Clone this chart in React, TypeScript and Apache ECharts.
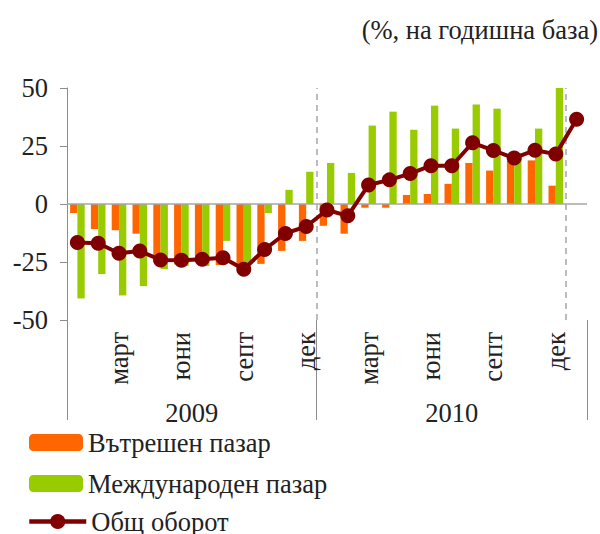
import React, { useEffect, useRef } from "react";
import * as echarts from "echarts";

const months = [
  "ян", "февр", "март", "апр", "май", "юни", "юли", "авг", "септ", "окт", "ное", "дек",
  "ян", "февр", "март", "апр", "май", "юни", "юли", "авг", "септ", "окт", "ное", "дек",
  "ян",
];
const years = ["2009", "2010"];
const yearCenters = [6, 18.5];
const yearBounds = [0, 12, 25];
const dashedBounds = [12, 24];

const domestic = [
  -3.9, -10.8, -11.3, -12.8, -25, -26, -25, -26.3, -27, -25.8, -20.2, -15.9,
  -9.4, -12.8, -1.6, -1.6, 3.9, 4.3, 8.7, 17.7, 14.4, 18.5, 18.8, 7.9, null,
];
const international = [
  -40.7, -30.2, -39.4, -35.4, -28.1, -26.7, -26.7, -15.9, -25.3, -3.9, 6.1, 13.9,
  17.7, 13.4, 33.8, 39.8, 32.0, 42.4, 32.5, 42.9, 41.1, 22, 32.5, 53.0, null,
];
const total = [
  -16.6, -16.9, -21.2, -20.3, -24.1, -24.2, -23.8, -23.2, -28.1, -19.6, -12.7, -9.7,
  -2.6, -5.1, 8.2, 10.4, 13.1, 16.5, 16.5, 26.4, 23.1, 19.8, 23.2, 21.5, 36.5,
];
const yTicks = { min: -50, max: 50, interval: 25 };
const legendNames = ["Вътрешен пазар", "Международен пазар", "Общ оборот"];
const legendTops = [424, 465, 503];

const FONT = "Liberation Serif";
const FS = 26.5;
const TEXT = "#222";
const AXIS = "#8c8c8c";

export default function App() {
  const ref = useRef<HTMLDivElement>(null);
  useEffect(() => {
    document.body.style.margin = "0";
    if (!ref.current) return;
    const chart = echarts.init(ref.current, null, { renderer: "svg" });
    chart.setOption({
      animation: false,
      textStyle: { fontFamily: FONT },
      title: {
        text: "(%, на годишна база)",
        right: 2,
        top: 16,
        padding: 0,
        textStyle: { fontFamily: FONT, fontSize: FS, fontWeight: "normal", color: TEXT },
      },
      grid: { left: 67, right: 13, top: 88, height: 232 },
      legend: legendNames.map((name, i) => ({
        orient: "vertical",
        left: i === 2 ? 22 : 24,
        top: legendTops[i],
        itemWidth: i === 2 ? 57 : 54,
        itemHeight: i === 2 ? 19 : 17,
        itemGap: 0,
        textStyle: { fontFamily: FONT, fontSize: FS, color: TEXT },
        ...(i === 2 ? { lineStyle: { width: 4.5 } } : {}),
        data: [name],
      })),
      xAxis: [
        {
          type: "category",
          data: months,
          position: "bottom",
          axisLine: { show: false },
          axisTick: { show: false },
          axisLabel: {
            interval: (i: number) => i % 3 === 2 && i < 24,
            rotate: 90,
            margin: 12,
            fontFamily: FONT,
            fontSize: FS,
            color: TEXT,
          },
        },
        {
          type: "value",
          min: 0,
          max: 25,
          position: "bottom",
          axisLine: { show: false },
          splitLine: { show: false },
          axisTick: {
            show: true,
            customValues: yearBounds,
            length: 100,
            lineStyle: { color: AXIS, width: 1 },
          },
          axisLabel: {
            customValues: yearCenters,
            formatter: (v: number) => years[yearCenters.indexOf(v)] ?? "",
            margin: 79,
            fontFamily: FONT,
            fontSize: FS,
            color: TEXT,
          },
        },
      ],
      yAxis: {
        type: "value",
        min: yTicks.min,
        max: yTicks.max,
        interval: yTicks.interval,
        axisLine: { show: true, lineStyle: { color: AXIS, width: 1 } },
        axisTick: { show: true, length: 7, lineStyle: { color: AXIS } },
        splitLine: { show: false },
        axisLabel: { fontFamily: FONT, fontSize: FS, color: TEXT, margin: 19 },
      },
      series: [
        {
          name: "Вътрешен пазар",
          type: "bar",
          data: domestic,
          barWidth: 7.3,
          barGap: "0%",
          itemStyle: { color: "#FF6600" },
          markLine: {
            silent: true,
            symbol: "none",
            label: { show: false },
            lineStyle: { color: "#a6a6a6", width: 1.5, type: "solid" },
            data: [{ yAxis: 0 }],
          },
        },
        {
          name: "Международен пазар",
          type: "bar",
          data: international,
          barWidth: 7.3,
          barGap: "0%",
          itemStyle: { color: "#99CC00" },
        },
        {
          name: "Общ оборот",
          type: "line",
          data: total,
          symbol: "circle",
          symbolSize: 15,
          showAllSymbol: true,
          itemStyle: { color: "#800000" },
          lineStyle: { color: "#800000", width: 4 },
          z: 5,
        },
        {
          name: "sep",
          type: "scatter",
          xAxisIndex: 1,
          data: [],
          markLine: {
            silent: true,
            symbol: "none",
            label: { show: false },
            lineStyle: { color: "#a6a6a6", width: 1.5, type: [6, 5] },
            data: dashedBounds.map((v) => ({ xAxis: v })),
          },
        },
      ],
    });
    return () => chart.dispose();
  }, []);
  return <div ref={ref} style={{ width: 600, height: 534 }} />;
}
